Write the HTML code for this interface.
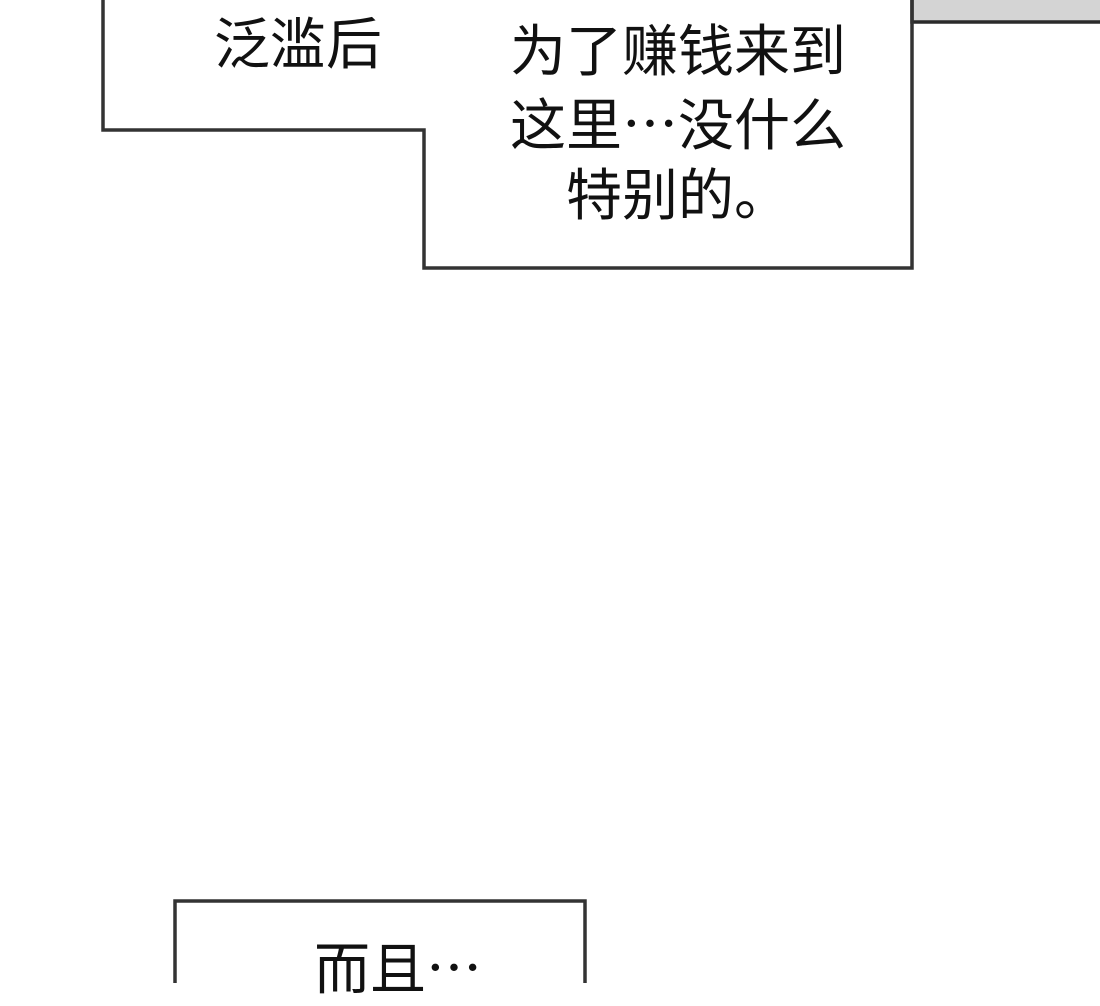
<!DOCTYPE html>
<html><head><meta charset="utf-8"><style>
body{margin:0;width:1100px;height:983px;background:#fff;overflow:hidden;position:relative;font-family:"Liberation Sans","Noto Sans CJK SC",sans-serif;color:#111}
.t{position:absolute;font-size:56px;line-height:70px;white-space:nowrap}
.d{font-family:"Noto Sans CJK SC",sans-serif}
</style></head><body>
<svg width="1100" height="983" style="position:absolute;left:0;top:0">
<rect x="912" y="0" width="188" height="22" fill="#d4d4d4"/>
<polyline points="912,0 912,22 1100,22" fill="none" stroke="#2a2a2a" stroke-width="3.5"/>
<polyline points="103,0 103,130 424,130 424,268 912,268 912,0" fill="none" stroke="#333" stroke-width="3.5"/>
<polyline points="175,983 175,901 585,901 585,983" fill="none" stroke="#333" stroke-width="3.5"/>
</svg>
<div class="t" style="left:214px;top:10px">泛滥后</div>
<div class="t" style="left:508px;top:17px;text-align:center;width:340px">为了赚钱来到<br>这里<span class="d">⋯</span>没什么<br>特别的。</div>
<div class="t" style="left:314px;top:931px">而且<span class="d">⋯</span></div>
</body></html>
